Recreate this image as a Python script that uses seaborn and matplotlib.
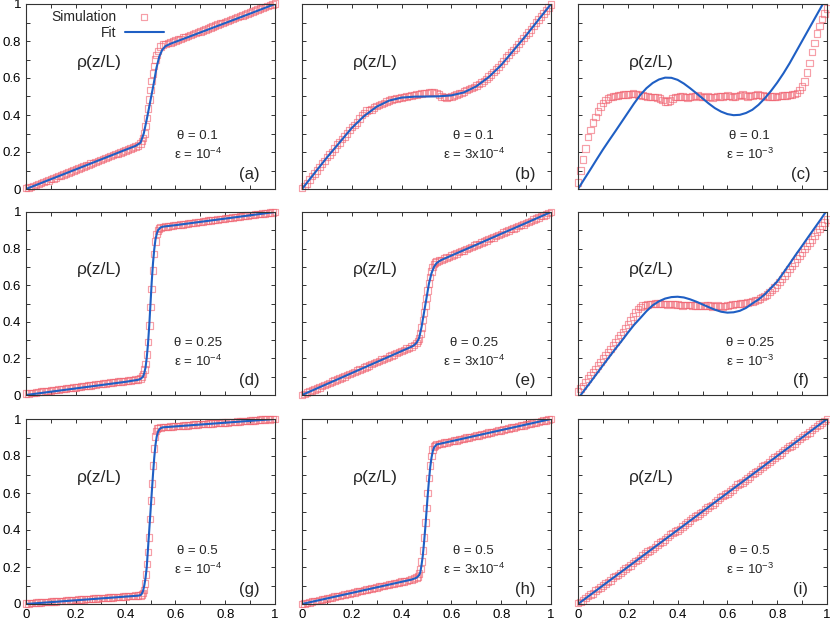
import matplotlib
matplotlib.use("Agg")
import numpy as np
import pandas as pd
import seaborn as sns
import matplotlib.pyplot as plt
from matplotlib.ticker import MultipleLocator, FuncFormatter

# ---------------------------------------------------------------- data
# sample positions along z/L
G01 = [round(0.01 * i, 2) for i in range(101)]
LO01 = G01[:45]          # 0.00 .. 0.44
HI01 = G01[56:]          # 0.56 .. 1.00
FINE = [0.025 * i for i in range(41)]

# (a) theta=0.1, eps=1e-4
SIM_A_X = LO01 + [0.45, 0.46, 0.465, 0.47, 0.475, 0.48, 0.485, 0.49, 0.495, 0.50, 0.505,
                  0.51, 0.515, 0.52, 0.525, 0.53, 0.54, 0.55] + HI01
SIM_A_Y = [0.005, 0.008, 0.012, 0.017, 0.022, 0.027, 0.032, 0.038, 0.043, 0.047,
           0.054, 0.058, 0.063, 0.069, 0.074, 0.079, 0.085, 0.088, 0.094, 0.100,
           0.106, 0.110, 0.116, 0.121, 0.126, 0.131, 0.137, 0.141, 0.147, 0.152,
           0.157, 0.162, 0.167, 0.173, 0.178, 0.183, 0.188, 0.192, 0.197, 0.203,
           0.209, 0.214, 0.219, 0.224, 0.229,
           0.236, 0.247, 0.26, 0.275, 0.30, 0.34, 0.385, 0.435, 0.485, 0.535, 0.585,
           0.625, 0.665, 0.70, 0.725, 0.745, 0.77, 0.78,
           0.785, 0.789, 0.793, 0.798, 0.803, 0.807, 0.812, 0.818, 0.822, 0.828,
           0.833, 0.837, 0.843, 0.848, 0.852, 0.858, 0.863, 0.867, 0.872, 0.879,
           0.884, 0.889, 0.894, 0.898, 0.903, 0.909, 0.913, 0.919, 0.924, 0.929,
           0.934, 0.939, 0.944, 0.950, 0.955, 0.959, 0.964, 0.970, 0.975, 0.980,
           0.985, 0.989, 0.994, 0.998, 1.002]
FIT_A_X = [0, 0.1, 0.2, 0.3, 0.4, 0.44, 0.46, 0.473, 0.487, 0.5, 0.513, 0.524, 0.535,
           0.547, 0.56, 0.58, 0.7, 0.8, 0.9, 1.0]
FIT_A_Y = [0, 0.053, 0.106, 0.159, 0.212, 0.233, 0.25, 0.30, 0.39, 0.48, 0.57, 0.655,
           0.715, 0.752, 0.772, 0.785, 0.846, 0.897, 0.948, 1.0]

# (b) theta=0.1, eps=3e-4
SIM_B_X = G01
SIM_B_Y = [0.005, 0.015, 0.030, 0.052, 0.070, 0.085, 0.100, 0.118, 0.138, 0.152,
           0.172, 0.186, 0.200, 0.220, 0.240, 0.252, 0.270, 0.283, 0.300, 0.318,
           0.335, 0.345, 0.360, 0.380, 0.400, 0.412, 0.425, 0.428, 0.430, 0.440,
           0.448, 0.455, 0.460, 0.466, 0.472, 0.478, 0.483, 0.487, 0.490, 0.492,
           0.495, 0.498, 0.500, 0.503, 0.505, 0.508, 0.510, 0.513, 0.515, 0.518,
           0.520, 0.523, 0.525, 0.522, 0.520, 0.510, 0.500, 0.497, 0.495, 0.497,
           0.500, 0.505, 0.510, 0.515, 0.520, 0.527, 0.535, 0.540, 0.545, 0.552,
           0.560, 0.567, 0.575, 0.585, 0.595, 0.607, 0.620, 0.632, 0.645, 0.660,
           0.675, 0.693, 0.710, 0.725, 0.740, 0.752, 0.765, 0.783, 0.800, 0.816,
           0.832, 0.846, 0.862, 0.882, 0.900, 0.915, 0.932, 0.950, 0.965, 0.982,
           0.998]
FIT_B_X = [0, 0.05, 0.1, 0.15, 0.2, 0.25, 0.3, 0.35, 0.4, 0.45, 0.5, 0.55, 0.6, 0.65,
           0.7, 0.75, 0.8, 0.85, 0.9, 0.95, 1.0]
FIT_B_Y = [0, 0.085, 0.17, 0.25, 0.33, 0.395, 0.445, 0.478, 0.494, 0.499, 0.5, 0.501,
           0.506, 0.522, 0.555, 0.605, 0.67, 0.75, 0.83, 0.915, 1.0]

# (c) theta=0.1, eps=1e-3
SIM_C_X = G01
SIM_C_Y = [0.035, 0.100, 0.160, 0.220, 0.280, 0.320, 0.360, 0.390, 0.420, 0.445,
           0.465, 0.480, 0.490, 0.497, 0.500, 0.503, 0.505, 0.508, 0.510, 0.512,
           0.512, 0.514, 0.515, 0.514, 0.512, 0.509, 0.505, 0.502, 0.500, 0.498,
           0.497, 0.496, 0.495, 0.488, 0.480, 0.474, 0.472, 0.478, 0.490, 0.496,
           0.498, 0.500, 0.500, 0.497, 0.495, 0.497, 0.500, 0.503, 0.505, 0.500,
           0.497, 0.498, 0.500, 0.497, 0.495, 0.498, 0.502, 0.501, 0.500, 0.503,
           0.505, 0.502, 0.498, 0.500, 0.502, 0.507, 0.510, 0.505, 0.500, 0.502,
           0.505, 0.508, 0.510, 0.508, 0.505, 0.502, 0.500, 0.500, 0.500, 0.499,
           0.498, 0.502, 0.505, 0.506, 0.505, 0.507, 0.510, 0.514, 0.520, 0.535,
           0.555, 0.580, 0.630, 0.680, 0.740, 0.790, 0.840, 0.880, 0.920, 0.950,
           0.975]
FIT_C_X = FINE
FIT_C_Y = [0.000, 0.053, 0.106, 0.160, 0.213, 0.263, 0.312, 0.362, 0.412, 0.462, 0.508,
           0.545, 0.573, 0.592, 0.602, 0.601, 0.590, 0.570, 0.545, 0.518, 0.490, 0.462,
           0.437, 0.418, 0.405, 0.399, 0.401, 0.411, 0.428, 0.455, 0.490, 0.530, 0.575,
           0.625, 0.680, 0.740, 0.800, 0.860, 0.920, 0.980, 1.040]

# (d) theta=0.25, eps=1e-4
SIM_D_X = LO01 + [0.45, 0.46, 0.465, 0.47, 0.475, 0.48, 0.485, 0.49, 0.495, 0.50, 0.505,
                  0.51, 0.515, 0.52, 0.525, 0.53, 0.535, 0.54, 0.55] + HI01
SIM_D_Y = [0.008, 0.009, 0.011, 0.012, 0.014, 0.016, 0.018, 0.019, 0.022, 0.023,
           0.025, 0.027, 0.028, 0.031, 0.032, 0.034, 0.035, 0.038, 0.039, 0.041,
           0.042, 0.045, 0.046, 0.048, 0.049, 0.052, 0.053, 0.055, 0.056, 0.059,
           0.060, 0.062, 0.063, 0.066, 0.067, 0.069, 0.070, 0.073, 0.073, 0.075,
           0.077, 0.080, 0.080, 0.082, 0.084,
           0.086, 0.09, 0.10, 0.115, 0.14, 0.17, 0.22, 0.29, 0.38, 0.48, 0.58, 0.68,
           0.77, 0.84, 0.88, 0.90, 0.91, 0.915, 0.918,
           0.920, 0.922, 0.924, 0.927, 0.928, 0.929, 0.932, 0.933, 0.935, 0.938,
           0.939, 0.941, 0.942, 0.945, 0.946, 0.948, 0.950, 0.953, 0.953, 0.955,
           0.957, 0.960, 0.961, 0.962, 0.965, 0.966, 0.968, 0.970, 0.972, 0.973,
           0.975, 0.977, 0.980, 0.980, 0.983, 0.984, 0.986, 0.988, 0.990, 0.991,
           0.993, 0.995, 0.996, 0.998, 1.000]
FIT_D_X = [0, 0.1, 0.2, 0.3, 0.4, 0.45, 0.46, 0.47, 0.475, 0.48, 0.485, 0.49, 0.495,
           0.50, 0.505, 0.51, 0.515, 0.52, 0.525, 0.53, 0.54, 0.55, 0.6, 0.7, 0.8, 0.9,
           1.0]
FIT_D_Y = [0.0, 0.018, 0.036, 0.054, 0.072, 0.083, 0.088, 0.10, 0.12, 0.15, 0.205, 0.28,
           0.38, 0.50, 0.62, 0.72, 0.795, 0.85, 0.88, 0.90, 0.915, 0.92, 0.928, 0.946,
           0.964, 0.982, 1.0]

# (e) theta=0.25, eps=3e-4
SIM_E_X = LO01 + [0.45, 0.46, 0.465, 0.47, 0.475, 0.48, 0.485, 0.49, 0.495, 0.50, 0.505,
                  0.51, 0.515, 0.52, 0.525, 0.53, 0.535, 0.54, 0.55] + HI01
SIM_E_Y = [0.000, 0.006, 0.013, 0.018, 0.025, 0.030, 0.035, 0.042, 0.049, 0.054,
           0.060, 0.065, 0.073, 0.078, 0.084, 0.091, 0.096, 0.101, 0.108, 0.115,
           0.120, 0.125, 0.133, 0.138, 0.143, 0.151, 0.156, 0.161, 0.169, 0.174,
           0.180, 0.185, 0.193, 0.198, 0.203, 0.211, 0.216, 0.221, 0.229, 0.234,
           0.240, 0.245, 0.253, 0.258, 0.264,
           0.272, 0.285, 0.295, 0.31, 0.335, 0.37, 0.41, 0.45, 0.49, 0.53, 0.57, 0.61,
           0.645, 0.675, 0.70, 0.715, 0.725, 0.73, 0.735,
           0.738, 0.745, 0.750, 0.755, 0.763, 0.768, 0.773, 0.781, 0.786, 0.791,
           0.799, 0.804, 0.809, 0.816, 0.821, 0.826, 0.834, 0.839, 0.844, 0.852,
           0.857, 0.862, 0.870, 0.875, 0.880, 0.888, 0.893, 0.898, 0.906, 0.911,
           0.916, 0.924, 0.929, 0.933, 0.941, 0.946, 0.951, 0.959, 0.964, 0.969,
           0.977, 0.982, 0.987, 0.995, 1.000]
FIT_E_X = [0, 0.1, 0.2, 0.3, 0.4, 0.44, 0.45, 0.46, 0.47, 0.48, 0.49, 0.50, 0.51, 0.52,
           0.53, 0.54, 0.55, 0.56, 0.6, 0.7, 0.8, 0.9, 1.0]
FIT_E_Y = [0, 0.06, 0.12, 0.18, 0.24, 0.264, 0.272, 0.285, 0.31, 0.37, 0.45, 0.53, 0.61,
           0.665, 0.70, 0.72, 0.73, 0.738, 0.762, 0.821, 0.881, 0.940, 1.0]

# (f) theta=0.25, eps=1e-3
SIM_F_X = G01
SIM_F_Y = [0.020, 0.035, 0.050, 0.070, 0.090, 0.108, 0.125, 0.142, 0.160, 0.180,
           0.200, 0.218, 0.235, 0.252, 0.270, 0.290, 0.310, 0.328, 0.345, 0.365,
           0.385, 0.408, 0.430, 0.452, 0.470, 0.482, 0.490, 0.493, 0.495, 0.497,
           0.498, 0.500, 0.500, 0.499, 0.497, 0.496, 0.495, 0.496, 0.497, 0.495,
           0.494, 0.492, 0.490, 0.491, 0.492, 0.491, 0.490, 0.489, 0.488, 0.487,
           0.487, 0.488, 0.490, 0.488, 0.485, 0.486, 0.488, 0.486, 0.485, 0.487,
           0.490, 0.493, 0.495, 0.497, 0.498, 0.499, 0.500, 0.503, 0.505, 0.507,
           0.510, 0.515, 0.520, 0.527, 0.535, 0.542, 0.550, 0.562, 0.575, 0.588,
           0.600, 0.618, 0.635, 0.652, 0.670, 0.688, 0.705, 0.725, 0.745, 0.763,
           0.780, 0.798, 0.815, 0.832, 0.850, 0.870, 0.890, 0.908, 0.925, 0.942,
           0.960]
FIT_F_X = FINE
FIT_F_Y = [-0.02, 0.025, 0.07, 0.116, 0.162, 0.207, 0.252, 0.295, 0.34, 0.383, 0.42,
           0.458, 0.49, 0.512, 0.527, 0.535, 0.537, 0.533, 0.523, 0.51, 0.495, 0.48,
           0.466, 0.455, 0.45, 0.452, 0.46, 0.476, 0.50, 0.522, 0.55, 0.585, 0.62, 0.668,
           0.717, 0.767, 0.815, 0.864, 0.912, 0.96, 1.01]

# (g) theta=0.5, eps=1e-4
SIM_G_X = LO01 + [0.45, 0.46, 0.466, 0.47, 0.474, 0.478, 0.482, 0.486, 0.49, 0.494,
                  0.498, 0.502, 0.506, 0.51, 0.514, 0.518, 0.522, 0.526, 0.53, 0.54,
                  0.55] + HI01
SIM_G_Y = [0.003, 0.004, 0.006, 0.006, 0.007, 0.009, 0.009, 0.010, 0.012, 0.012,
           0.013, 0.014, 0.014, 0.016, 0.016, 0.017, 0.019, 0.019, 0.020, 0.022,
           0.022, 0.023, 0.025, 0.025, 0.026, 0.028, 0.028, 0.029, 0.031, 0.031,
           0.032, 0.033, 0.033, 0.035, 0.035, 0.036, 0.038, 0.038, 0.039, 0.041,
           0.041, 0.042, 0.044, 0.044, 0.045,
           0.046, 0.047, 0.052, 0.06, 0.075, 0.11, 0.16, 0.215, 0.28, 0.36, 0.46, 0.56,
           0.65, 0.75, 0.84, 0.905, 0.935, 0.948, 0.952, 0.955, 0.956,
           0.957, 0.958, 0.960, 0.960, 0.961, 0.963, 0.963, 0.964, 0.966, 0.966,
           0.967, 0.969, 0.969, 0.970, 0.972, 0.972, 0.973, 0.975, 0.975, 0.976,
           0.978, 0.978, 0.979, 0.981, 0.981, 0.982, 0.984, 0.984, 0.985, 0.987,
           0.987, 0.988, 0.990, 0.990, 0.991, 0.993, 0.993, 0.994, 0.996, 0.996,
           0.997, 0.999, 0.998, 0.999, 1.000]
FIT_G_X = [0, 0.1, 0.2, 0.3, 0.4, 0.45, 0.46, 0.465, 0.47, 0.475, 0.48, 0.485, 0.49,
           0.495, 0.50, 0.505, 0.51, 0.515, 0.52, 0.525, 0.53, 0.535, 0.54, 0.55, 0.6,
           0.7, 0.8, 0.9, 1.0]
FIT_G_Y = [0.0, 0.01, 0.02, 0.03, 0.04, 0.045, 0.048, 0.055, 0.07, 0.10, 0.14, 0.20,
           0.30, 0.40, 0.50, 0.60, 0.70, 0.79, 0.86, 0.905, 0.93, 0.943, 0.95, 0.955,
           0.96, 0.97, 0.98, 0.99, 1.0]

# (h) theta=0.5, eps=3e-4
SIM_H_X = LO01 + [0.45, 0.46, 0.465, 0.47, 0.475, 0.48, 0.485, 0.49, 0.495, 0.50, 0.505,
                  0.51, 0.515, 0.52, 0.525, 0.53, 0.535, 0.54, 0.55] + HI01
SIM_H_Y = [0.000, 0.004, 0.006, 0.008, 0.013, 0.015, 0.017, 0.022, 0.024, 0.026,
           0.031, 0.033, 0.035, 0.040, 0.042, 0.044, 0.049, 0.051, 0.053, 0.058,
           0.060, 0.062, 0.067, 0.069, 0.071, 0.076, 0.078, 0.080, 0.085, 0.087,
           0.089, 0.094, 0.096, 0.098, 0.103, 0.105, 0.107, 0.112, 0.114, 0.116,
           0.121, 0.123, 0.125, 0.130, 0.132,
           0.137, 0.142, 0.15, 0.165, 0.19, 0.23, 0.29, 0.36, 0.44, 0.52, 0.60, 0.68,
           0.75, 0.80, 0.835, 0.85, 0.858, 0.862, 0.866,
           0.868, 0.872, 0.874, 0.876, 0.881, 0.883, 0.885, 0.890, 0.892, 0.894,
           0.899, 0.901, 0.903, 0.908, 0.910, 0.912, 0.917, 0.919, 0.921, 0.926,
           0.928, 0.930, 0.935, 0.937, 0.939, 0.944, 0.946, 0.948, 0.953, 0.955,
           0.957, 0.962, 0.964, 0.966, 0.971, 0.973, 0.975, 0.980, 0.982, 0.984,
           0.989, 0.991, 0.993, 0.998, 1.000]
FIT_H_X = [0, 0.1, 0.2, 0.3, 0.4, 0.44, 0.46, 0.47, 0.475, 0.48, 0.485, 0.49, 0.495,
           0.50, 0.505, 0.51, 0.515, 0.52, 0.525, 0.53, 0.54, 0.56, 0.6, 0.7, 0.8, 0.9,
           1.0]
FIT_H_Y = [0, 0.03, 0.06, 0.09, 0.12, 0.132, 0.142, 0.155, 0.17, 0.21, 0.26, 0.33, 0.41,
           0.50, 0.59, 0.67, 0.74, 0.79, 0.825, 0.845, 0.862, 0.868, 0.88, 0.91, 0.94,
           0.97, 1.0]

# (i) theta=0.5, eps=1e-3
SIM_I_X = G01
SIM_I_Y = [0.005, 0.012, 0.020, 0.032, 0.042, 0.050, 0.058, 0.072, 0.082, 0.088,
           0.100, 0.112, 0.118, 0.128, 0.142, 0.152, 0.158, 0.168, 0.182, 0.192,
           0.200, 0.208, 0.222, 0.232, 0.238, 0.248, 0.262, 0.272, 0.283, 0.290,
           0.298, 0.308, 0.322, 0.333, 0.338, 0.348, 0.363, 0.375, 0.385, 0.392,
           0.398, 0.405, 0.418, 0.430, 0.440, 0.452, 0.465, 0.472, 0.478, 0.488,
           0.498, 0.510, 0.522, 0.530, 0.535, 0.548, 0.562, 0.575, 0.585, 0.592,
           0.598, 0.608, 0.618, 0.632, 0.645, 0.652, 0.658, 0.668, 0.678, 0.690,
           0.702, 0.712, 0.720, 0.730, 0.742, 0.752, 0.758, 0.768, 0.782, 0.792,
           0.800, 0.808, 0.818, 0.832, 0.842, 0.850, 0.858, 0.868, 0.880, 0.892,
           0.902, 0.910, 0.918, 0.928, 0.940, 0.952, 0.962, 0.970, 0.978, 0.990,
           1.000]
FIT_I_X = [0.0, 1.0]
FIT_I_Y = [0.0, 1.0]

THETAS = ["0.1", "0.1", "0.1", "0.25", "0.25", "0.25", "0.5", "0.5", "0.5"]
EPS = ["10", "3x10", "10", "10", "3x10", "10", "10", "3x10", "10"]
EPS_EXP = ["-4", "-4", "-3", "-4", "-4", "-3", "-4", "-4", "-3"]
LETTERS = ["(a)", "(b)", "(c)", "(d)", "(e)", "(f)", "(g)", "(h)", "(i)"]
SIMS = [(SIM_A_X, SIM_A_Y), (SIM_B_X, SIM_B_Y), (SIM_C_X, SIM_C_Y),
        (SIM_D_X, SIM_D_Y), (SIM_E_X, SIM_E_Y), (SIM_F_X, SIM_F_Y),
        (SIM_G_X, SIM_G_Y), (SIM_H_X, SIM_H_Y), (SIM_I_X, SIM_I_Y)]
FITS = [(FIT_A_X, FIT_A_Y), (FIT_B_X, FIT_B_Y), (FIT_C_X, FIT_C_Y),
        (FIT_D_X, FIT_D_Y), (FIT_E_X, FIT_E_Y), (FIT_F_X, FIT_F_Y),
        (FIT_G_X, FIT_G_Y), (FIT_H_X, FIT_H_Y), (FIT_I_X, FIT_I_Y)]

# ---------------------------------------------------------------- style
sns.set_theme(style="white")
plt.rcParams["font.family"] = ["Liberation Sans", "DejaVu Sans"]
plt.rcParams["mathtext.default"] = "regular"

SIM_COLOR = "#f0606e"
FIT_COLOR = "#1f5fc4"
SPINE = "#333333"

W, H = 830, 623
fig = plt.figure(figsize=(W / 100, H / 100), dpi=100)

COL_LEFT = [26, 302, 578]
COL_W = 249
ROW_TOP = [4, 212, 419]
ROW_BOT = [189, 395, 604]

fmt = FuncFormatter(lambda v, p: f"{v:g}")

for k in range(9):
    r, c = divmod(k, 3)
    l = COL_LEFT[c] / W
    b = (H - ROW_BOT[r]) / H
    h = (ROW_BOT[r] - ROW_TOP[r]) / H
    ax = fig.add_axes([l, b, COL_W / W, h])
    sx, sy = SIMS[k]
    fx, fy = FITS[k]
    sim_df = pd.DataFrame({"x": sx, "y": sy})
    fit_df = pd.DataFrame({"x": fx, "y": fy})
    sns.scatterplot(data=sim_df, x="x", y="y", ax=ax, marker="s", s=22,
                    color=SIM_COLOR, facecolor="none", edgecolor=SIM_COLOR,
                    linewidth=0.85, alpha=0.6, clip_on=False, zorder=2,
                    label="Simulation")
    sns.lineplot(data=fit_df, x="x", y="y", ax=ax, color=FIT_COLOR, linewidth=1.5,
                 estimator=None, sort=False, zorder=3, label="Fit")
    ax.set_xlim(0, 1)
    ax.set_ylim(0, 1)
    ax.set_xlabel("")
    ax.set_ylabel("")
    for sp in ax.spines.values():
        sp.set_color(SPINE)
        sp.set_linewidth(0.8)
        sp.set_zorder(4)
    ax.xaxis.set_major_locator(MultipleLocator(0.2))
    ax.xaxis.set_minor_locator(MultipleLocator(0.1))
    ax.yaxis.set_major_locator(MultipleLocator(0.2))
    ax.yaxis.set_minor_locator(MultipleLocator(0.1))
    ax.xaxis.set_major_formatter(fmt)
    ax.yaxis.set_major_formatter(fmt)
    ax.tick_params(which="both", direction="in", top=True, right=True, bottom=True,
                   left=True, length=3, width=0.7, color=SPINE, labelsize=9.5,
                   pad=3.5, labelcolor="black")
    if c != 0:
        ax.tick_params(labelleft=False)
    if r != 2:
        ax.tick_params(labelbottom=False)

    ax.text(0.295, 0.685, "ρ(z/L)", transform=ax.transAxes, fontsize=12.5,
            ha="center", va="center")
    ax.text(0.69, 0.285, f"θ = {THETAS[k]}", transform=ax.transAxes, fontsize=9.5,
            ha="center", va="center")
    ax.text(0.69, 0.185, f"ε = {EPS[k]}$^{{{EPS_EXP[k]}}}$", transform=ax.transAxes,
            fontsize=9.5, ha="center", va="center")
    ax.text(0.895, 0.08, LETTERS[k], transform=ax.transAxes, fontsize=12,
            ha="center", va="center")

    if k == 0:
        handles, labels = ax.get_legend_handles_labels()
        ax.legend(handles, labels, loc="upper left", bbox_to_anchor=(0.09, 0.985),
                  markerfirst=False, frameon=False, fontsize=10, handlelength=2.8,
                  handletextpad=0.6, labelspacing=0.15, borderaxespad=0,
                  borderpad=0.2, scatterpoints=1)
    else:
        lg = ax.get_legend()
        if lg is not None:
            lg.remove()

fig.savefig("out.png", dpi=100)
